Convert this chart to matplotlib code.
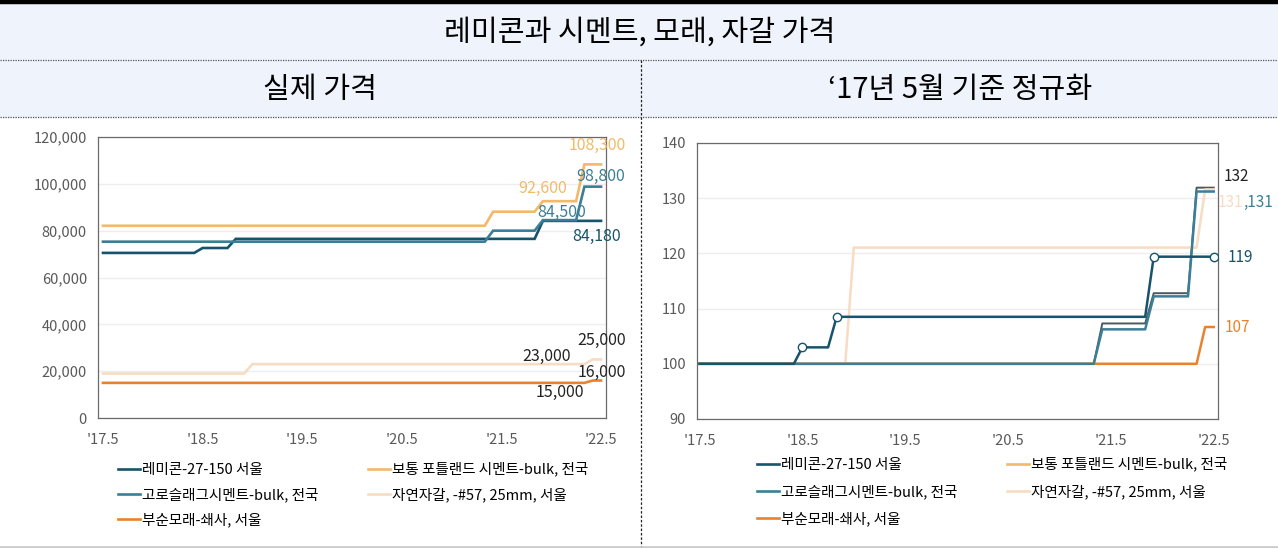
import matplotlib
matplotlib.use("Agg")
import matplotlib.pyplot as plt
import numpy as np
from matplotlib.lines import Line2D

plt.rcParams['font.family'] = ['Noto Sans CJK KR', 'DejaVu Sans']

W, H = 1278, 548

# months counted from May 2017 (0) to May 2022 (60)
months = np.arange(61)
tick_pos = [0, 12, 24, 36, 48, 60]
tick_lbl = ["'17.5", "'18.5", "'19.5", "'20.5", "'21.5", "'22.5"]

names = ['레미콘-27-150 서울', '보통 포틀랜드 시멘트-bulk, 전국', '고로슬래그시멘트-bulk, 전국',
         '자연자갈, -#57, 25mm, 서울', '부순모래-쇄사, 서울']
colors = ['#17536a', '#f2b968', '#3a7f97', '#f6dcc3', '#e8822e']

# price steps: (first month of new price, price)
remicon_steps = [(0, 70500), (12, 72600), (16, 76500), (53, 84180)]
portland_steps = [(0, 82100), (47, 88100), (53, 92600), (58, 108300)]
slag_steps = [(0, 75300), (47, 80000), (53, 84500), (58, 98800)]
gravel_steps = [(0, 19000), (18, 23000), (59, 25000)]
sand_steps = [(0, 15000), (59, 16000)]


def expand(steps):
    vals = np.zeros(len(months))
    for m, v in steps:
        vals[m:] = v
    return vals


series = [expand(s) for s in [remicon_steps, portland_steps, slag_steps, gravel_steps, sand_steps]]
normed = [s / s[0] * 100 for s in series]

fig = plt.figure(figsize=(W / 100, H / 100), dpi=100)


def px_axes(x0, y0, x1, y1):
    return fig.add_axes([x0 / W, 1 - y1 / H, (x1 - x0) / W, (y1 - y0) / H])


# background / header
bg = fig.add_axes([0, 0, 1, 1])
bg.set_xlim(0, W)
bg.set_ylim(H, 0)
bg.axis('off')
bg.add_patch(plt.Rectangle((0, 4), W, 113, color='#eef3fc', zorder=0))
bg.plot([0, W], [2, 2], color='black', lw=3.2)
bg.plot([0, W], [60, 60], color='#555555', lw=0.9, ls=(0, (1, 1)))
bg.plot([0, W], [117, 117], color='#555555', lw=0.9, ls=(0, (1, 1)))
bg.plot([641, 641], [60, H], color='#222222', lw=0.9, ls=(0, (2, 1.5)))
bg.plot([0, W], [546.5, 546.5], color='#c8c8c8', lw=1.8)
bg.text(640, 33, '레미콘과 시멘트, 모래, 자갈 가격', ha='center', va='center', fontsize=21)
bg.text(320, 90, '실제 가격', ha='center', va='center', fontsize=21)
bg.text(960, 90, '‘17년 5월 기준 정규화', ha='center', va='center', fontsize=21)


def style(ax, yticks, ylabels):
    ax.set_xticks(tick_pos)
    ax.set_xticklabels(tick_lbl)
    ax.set_yticks(yticks)
    ax.set_yticklabels(ylabels)
    ax.tick_params(length=0, labelsize=10.5, labelcolor='#595959', pad=8)
    ax.tick_params(axis='x', pad=11)
    ax.grid(axis='y', color='#eeeeee', lw=1)
    ax.set_axisbelow(True)
    for sp in ax.spines.values():
        sp.set_color('#6a6a6a')
        sp.set_linewidth(0.9)


# left: actual prices
ax1 = px_axes(98, 137, 606, 418)
for vals, c in zip(series, colors):
    ax1.plot(months, vals, color=c, lw=1.9, solid_joinstyle='miter')
ax1.set_xlim(-0.6, 60.6)
ax1.set_ylim(0, 120000)
yt = np.arange(0, 120001, 20000)
style(ax1, yt, [f'{v:,}' for v in yt])

left_labels = [
    (59.6, 116600, '108,300', colors[1]),
    (59.9, 103000, '98,800', colors[2]),
    (53.0, 97900, '92,600', colors[1]),
    (55.2, 87650, '84,500', colors[2]),
    (59.5, 77400, '84,180', colors[0]),
    (60.1, 33200, '25,000', '#222222'),
    (53.4, 26400, '23,000', '#222222'),
    (60.1, 19600, '16,000', '#222222'),
    (55.0, 11060, '15,000', '#222222'),
]
for x, y, t, c in left_labels:
    ax1.text(x, y, t, ha='center', va='center', fontsize=11.5, color=c, clip_on=False)

order = [0, 2, 4, 1, 3]
h1 = [Line2D([], [], color=colors[i], lw=1.9) for i in order]
ax1.legend(h1, [names[i] for i in order], ncol=2, frameon=False, fontsize=10.5,
           loc='upper left', bbox_to_anchor=(118 / W, 1 - 462 / H), bbox_transform=fig.transFigure,
           handlelength=1.5, handletextpad=0.15, columnspacing=3.4, labelspacing=0.72,
           borderaxespad=0, borderpad=0)

# right: normalized to May 2017
ax2 = px_axes(697, 143, 1218, 419)
ax2.plot(months, normed[1], color='#4a5a5a', lw=1.4)
for i in [3, 4, 2, 0]:
    ax2.plot(months, normed[i], color=colors[i], lw=1.8)
mk = [12, 16, 53, 60]
ax2.plot(months[mk], normed[0][mk], 'o', ms=6, mfc='white', mec=colors[0], mew=1, zorder=5)
ax2.set_xlim(-0.3, 60.5)
ax2.set_ylim(90, 140)
yt2 = np.arange(90, 141, 10)
style(ax2, yt2, [str(v) for v in yt2])

right_labels = [
    (61.1, 134.0, '132', '#222222'),
    (60.5, 129.3, '131', colors[3]),
    (63.4, 129.3, ',131', colors[2]),
    (61.6, 119.2, '119', colors[0]),
    (61.3, 106.5, '107', colors[4]),
]
for x, y, t, c in right_labels:
    ax2.text(x, y, t, ha='left', va='center', fontsize=11, color=c, clip_on=False)

h2 = [Line2D([], [], color=colors[i], lw=1.9) for i in order]
ax2.legend(h2, [names[i] for i in order], ncol=2, frameon=False, fontsize=10.5,
           loc='upper left', bbox_to_anchor=(757 / W, 1 - 457 / H), bbox_transform=fig.transFigure,
           handlelength=1.5, handletextpad=0.15, columnspacing=3.4, labelspacing=0.85,
           borderaxespad=0, borderpad=0)

fig.savefig('out.png', dpi=100)
